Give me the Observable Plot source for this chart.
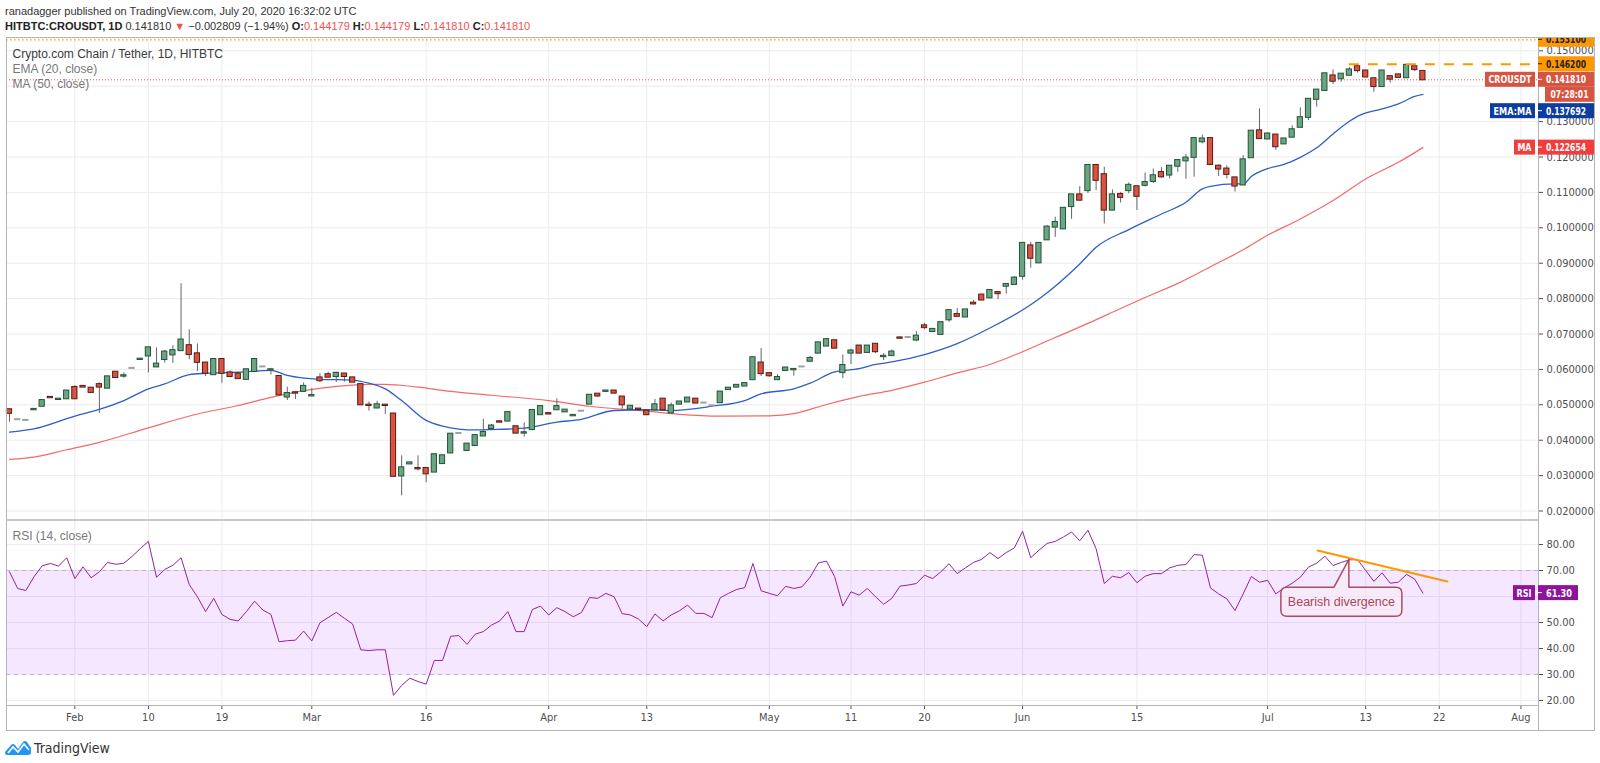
<!DOCTYPE html>
<html>
<head>
<meta charset="utf-8">
<script src="https://cdn.jsdelivr.net/npm/d3@7"></script>
<script src="https://cdn.jsdelivr.net/npm/@observablehq/plot@0.6"></script>
<style>
  html, body { margin: 0; padding: 0; background: #fff; width: 1600px; height: 763px; overflow: hidden; }
  #wrap { position: relative; width: 1600px; height: 763px; }
  #header { height: 37px; position: relative; font-family: 'Liberation Sans', Arial, sans-serif; font-size: 11px; color: #333; }
  #header .l1 { position: absolute; left: 5px; top: 5px; }
  #header .l2 { position: absolute; left: 5px; top: 20px; }
  #header b { font-weight: bold; color: #222; }
  #header .dn { color: #ef5350; }
  #main svg, #rsi svg { display: block; }
  #footer { position: absolute; left: 5px; top: 739px; height: 18px; display: flex; align-items: center; font-family: 'Liberation Sans Narrow', 'DejaVu Sans Condensed', sans-serif; font-size: 14px; color: #333; }
  #footer svg { margin-right: 3px; }
  .ov { position: absolute; pointer-events: none; box-sizing: border-box; }
</style>
</head>
<body>
<div id="wrap">
  <div id="header">
    <div class="l1">ranadagger published on TradingView.com, July 20, 2020 16:32:02 UTC</div>
    <div class="l2"><b>HITBTC:CROUSDT, 1D</b> 0.141810 <span class="dn">▼</span> −0.002809 (−1.94%) <b>O:</b><span class="dn">0.144179</span> <b>H:</b><span class="dn">0.144179</span> <b>L:</b><span class="dn">0.141810</span> <b>C:</b><span class="dn">0.141810</span></div>
  </div>
  <div id="main"></div>
  <div id="rsi"></div>
  <div id="footer"><svg width="26" height="16" viewBox="0 0 26 16"><path d="M2 15 Q0 15 0 12 L6 5 Q8 3 10 5 L13 9 L18 2 Q20 0 22 2 L26 8 L26 12 Q26 15 23 15 Z" fill="#2196f3"/><path d="M3 13 L8 7 L13 12 L19 4 L24 10" stroke="#fff" stroke-width="1.6" fill="none"/></svg>TradingView</div>
  <div class="ov" style="left:6px; top:37px; width:1589px; height:694px; border:1px solid #b4b4b4;"></div>
  <div class="ov" style="left:1538px; top:705px; width:1px; height:25px; background:#b4b4b4;"></div>
  <div class="ov" style="left:6px; top:519px; width:1532px; height:2px; background:#c8c8c8;"></div>
</div>
<script>
// ---------------- DATA ----------------
const open = [
0.0486,0.0458,0.0456,0.0486,0.0496,0.0521,0.0515,0.0517,0.0549,0.0552,
0.0547,0.0557,0.0547,0.0592,0.0581,0.0603,0.0628,0.0638,0.0607,0.0628,
0.0641,0.0653,0.0667,0.0644,0.0618,0.0585,0.0628,0.0590,0.0587,0.0572,
0.0594,0.0607,0.0598,0.0580,0.0522,0.0534,0.0538,0.0525,0.0576,0.0585,
0.0580,0.0587,0.0576,0.0557,0.0499,0.0491,0.0499,0.0474,0.0299,0.0333,
0.0320,0.0320,0.0310,0.0334,0.0364,0.0419,0.0371,0.0385,0.0412,0.0433,
0.0452,0.0454,0.0438,0.0420,0.0430,0.0472,0.0475,0.0486,0.0480,0.0469,
0.0482,0.0502,0.0530,0.0538,0.0539,0.0522,0.0488,0.0488,0.0482,0.0486,
0.0516,0.0477,0.0502,0.0508,0.0516,0.0505,0.0497,0.0506,0.0543,0.0550,
0.0553,0.0571,0.0618,0.0588,0.0571,0.0597,0.0599,0.0607,0.0623,0.0646,
0.0666,0.0681,0.0591,0.0646,0.0666,0.0648,0.0671,0.0636,0.0639,0.0689,
0.0690,0.0683,0.0723,0.0707,0.0699,0.0740,0.0755,0.0748,0.0787,0.0810,
0.0802,0.0817,0.0835,0.0840,0.0863,0.0949,0.0901,0.0966,0.1002,0.0997,
0.1060,0.1093,0.1105,0.1176,0.1150,0.1050,0.1094,0.1105,0.1116,0.1120,
0.1131,0.1156,0.1149,0.1174,0.1189,0.1199,0.1243,0.1252,0.1174,0.1166,
0.1141,0.1121,0.1198,0.1274,0.1251,0.1262,0.1237,0.1256,0.1284,0.1312,
0.1363,0.1388,0.1429,0.1421,0.1431,0.1455,0.1443,0.1421,0.1399,0.1427,
0.1432,0.1424,0.1455,0.14418];
const high = [
0.0488,0.0459,0.0457,0.0488,0.0513,0.0522,0.0517,0.0540,0.0554,0.0553,
0.0548,0.0562,0.0580,0.0593,0.0590,0.0604,0.0630,0.0662,0.0661,0.0654,
0.0667,0.0842,0.0712,0.0672,0.0619,0.0629,0.0629,0.0596,0.0588,0.0600,
0.0629,0.0608,0.0603,0.0581,0.0550,0.0536,0.0562,0.0546,0.0588,0.0592,
0.0592,0.0588,0.0577,0.0558,0.0508,0.0510,0.0500,0.0475,0.0356,0.0337,
0.0356,0.0321,0.0360,0.0357,0.0418,0.0420,0.0390,0.0414,0.0459,0.0445,
0.0454,0.0479,0.0439,0.0449,0.0485,0.0496,0.0476,0.0517,0.0486,0.0471,
0.0483,0.0528,0.0531,0.0540,0.0540,0.0523,0.0497,0.0489,0.0483,0.0515,
0.0517,0.0505,0.0509,0.0520,0.0517,0.0506,0.0498,0.0537,0.0548,0.0556,
0.0561,0.0634,0.0659,0.0589,0.0585,0.0605,0.0601,0.0608,0.0637,0.0676,
0.0686,0.0682,0.0641,0.0657,0.0667,0.0667,0.0672,0.0645,0.0655,0.0690,
0.0693,0.0707,0.0730,0.0714,0.0733,0.0767,0.0772,0.0769,0.0795,0.0811,
0.0823,0.0818,0.0841,0.0862,0.0956,0.0959,0.0957,0.1006,0.1030,0.1056,
0.1094,0.1116,0.1178,0.1177,0.1171,0.1107,0.1100,0.1127,0.1117,0.1155,
0.1166,0.1170,0.1175,0.1191,0.1208,0.1253,0.1262,0.1253,0.1178,0.1175,
0.1142,0.1204,0.1274,0.1336,0.1268,0.1263,0.1252,0.1288,0.1339,0.1364,
0.1390,0.1436,0.1446,0.1435,0.1453,0.1461,0.1445,0.1422,0.1444,0.1428,
0.1433,0.1460,0.1456,0.14418];
const low = [
0.0451,0.0457,0.0455,0.0485,0.0495,0.0519,0.0514,0.0516,0.0516,0.0549,
0.0534,0.0476,0.0546,0.0577,0.0575,0.0602,0.0627,0.0590,0.0606,0.0618,
0.0617,0.0652,0.0627,0.0594,0.0580,0.0584,0.0561,0.0579,0.0573,0.0571,
0.0593,0.0606,0.0584,0.0527,0.0512,0.0515,0.0537,0.0524,0.0563,0.0577,
0.0563,0.0564,0.0563,0.0499,0.0482,0.0489,0.0473,0.0298,0.0243,0.0332,
0.0313,0.0280,0.0309,0.0333,0.0363,0.0418,0.0370,0.0384,0.0411,0.0428,
0.0450,0.0453,0.0419,0.0409,0.0429,0.0471,0.0473,0.0485,0.0479,0.0468,
0.0481,0.0501,0.0521,0.0537,0.0532,0.0488,0.0487,0.0486,0.0471,0.0485,
0.0485,0.0476,0.0501,0.0507,0.0504,0.0504,0.0496,0.0505,0.0542,0.0549,
0.0552,0.0570,0.0580,0.0578,0.0570,0.0596,0.0581,0.0606,0.0622,0.0645,
0.0665,0.0659,0.0574,0.0614,0.0645,0.0647,0.0645,0.0625,0.0638,0.0687,
0.0689,0.0678,0.0712,0.0706,0.0698,0.0733,0.0749,0.0747,0.0782,0.0796,
0.0801,0.0797,0.0813,0.0839,0.0852,0.0886,0.0900,0.0965,0.0973,0.0995,
0.1024,0.1077,0.1097,0.1105,0.1011,0.1049,0.1070,0.1096,0.1049,0.1115,
0.1125,0.1140,0.1138,0.1157,0.1137,0.1143,0.1237,0.1178,0.1145,0.1138,
0.1101,0.1120,0.1197,0.1251,0.1250,0.1219,0.1236,0.1255,0.1283,0.1303,
0.1341,0.1387,0.1405,0.1411,0.1430,0.1437,0.1425,0.1383,0.1398,0.1409,
0.1424,0.1423,0.1441,0.14181];
const close = [
0.0476,0.0458,0.0456,0.0487,0.0512,0.0520,0.0516,0.0539,0.0517,0.0550,
0.0535,0.0550,0.0579,0.0577,0.0582,0.0603,0.0629,0.0661,0.0615,0.0649,
0.0653,0.0683,0.0642,0.0620,0.0589,0.0628,0.0589,0.0580,0.0574,0.0599,
0.0628,0.0607,0.0599,0.0528,0.0532,0.0533,0.0552,0.0526,0.0568,0.0578,
0.0589,0.0580,0.0564,0.0500,0.0498,0.0500,0.0498,0.0298,0.0322,0.0336,
0.0319,0.0305,0.0359,0.0356,0.0417,0.0419,0.0389,0.0413,0.0422,0.0440,
0.0451,0.0478,0.0420,0.0421,0.0484,0.0495,0.0474,0.0495,0.0485,0.0470,
0.0482,0.0527,0.0525,0.0539,0.0533,0.0500,0.0496,0.0487,0.0472,0.0500,
0.0486,0.0497,0.0508,0.0519,0.0505,0.0505,0.0497,0.0536,0.0547,0.0555,
0.0560,0.0633,0.0588,0.0582,0.0577,0.0604,0.0600,0.0607,0.0631,0.0675,
0.0684,0.0660,0.0611,0.0652,0.0646,0.0666,0.0650,0.0637,0.0649,0.0688,
0.0690,0.0694,0.0718,0.0713,0.0732,0.0766,0.0750,0.0768,0.0785,0.0796,
0.0823,0.0814,0.0840,0.0858,0.0956,0.0914,0.0956,0.1002,0.1015,0.1055,
0.1093,0.1078,0.1176,0.1134,0.1050,0.1093,0.1086,0.1120,0.1089,0.1128,
0.1147,0.1144,0.1174,0.1190,0.1197,0.1252,0.1251,0.1179,0.1166,0.1151,
0.1118,0.1192,0.1273,0.1252,0.1265,0.1229,0.1251,0.1277,0.1311,0.1363,
0.1389,0.1435,0.1414,0.1434,0.1446,0.1444,0.1426,0.1399,0.1443,0.1420,
0.1425,0.1459,0.1447,0.14181];

const emaBar = [0,3,8,11,14,17,19,22,24,28,32,34,38,42,44,46,48,51,53,57,59,63,67,70,74,78,81,86,90,92,96,98,101,104,106,108,112,116,120,124,126,131,133,137,141,144,146,147,150,151,152,154,156,158,160,162,164,165,168,170,172,173];
const emaVal = [0.0423,0.0432,0.0468,0.0487,0.0512,0.0545,0.0559,0.0585,0.0589,0.0592,0.0597,0.0583,0.0572,0.0570,0.0561,0.0545,0.0512,0.0456,0.0440,0.0429,0.0430,0.0434,0.0451,0.0459,0.0484,0.0486,0.0484,0.0496,0.0512,0.0531,0.0545,0.0561,0.0593,0.0602,0.0614,0.0621,0.0642,0.0673,0.0717,0.0768,0.0799,0.0898,0.0945,0.0995,0.1039,0.1072,0.1110,0.1117,0.1124,0.1124,0.1145,0.1167,0.1179,0.1199,0.1226,0.1265,0.1301,0.1315,0.1336,0.1350,0.1371,0.137692];
const maBar = [0,3,7,11,17,23,28,32,36,40,44,46,50,54,59,66,71,78,82,87,93,96,100,104,108,112,116,120,124,128,132,136,139,143,147,151,154,158,162,166,170,173];
const maVal = [0.0346,0.0352,0.0373,0.0394,0.0435,0.0474,0.0498,0.0521,0.0540,0.0552,0.0558,0.0558,0.0550,0.0538,0.0527,0.0512,0.0496,0.0482,0.0473,0.0468,0.0469,0.0475,0.0501,0.0524,0.0541,0.0564,0.0590,0.0614,0.0650,0.0690,0.0730,0.0772,0.0803,0.0843,0.0890,0.0938,0.0979,0.1025,0.1077,0.1138,0.1185,0.122654];

// RSI(14)
const rsi = [69.5,63.1,62.3,67.6,71.8,72.7,71.7,74.9,66.9,71.4,
67.2,69.5,73.1,72.4,72.8,75.4,78.4,81.2,67.4,70.4,
72.0,74.9,64.6,59.9,54.2,59.3,53.1,51.2,50.6,54.2,
58.2,54.8,53.1,42.6,43.0,43.2,46.7,42.9,49.9,51.9,
53.9,51.6,49.4,39.5,39.2,39.5,39.5,22.0,25.8,28.6,
27.3,26.3,35.4,35.4,44.7,45.0,41.6,45.5,46.5,49.0,
50.6,54.2,46.5,46.5,55.0,56.3,52.9,55.7,54.2,52.2,
53.8,59.6,59.3,61.2,59.9,53.4,52.9,51.3,48.4,53.3,
50.6,52.9,54.5,56.7,53.5,53.5,51.9,59.5,61.2,62.7,
63.4,72.7,62.2,61.2,60.3,63.9,63.1,63.7,67.4,72.9,
73.6,67.6,56.3,61.8,60.5,63.1,59.9,57.0,59.3,64.0,
64.4,65.0,68.2,66.9,69.5,72.6,68.8,71.0,73.1,74.3,
76.9,74.6,76.9,78.7,85.1,74.9,77.8,80.4,81.2,82.9,
84.8,81.4,85.5,78.4,65.0,67.8,67.2,69.2,65.3,67.8,
68.8,68.8,71.0,72.0,72.3,76.1,75.9,63.3,61.0,59.1,
54.6,61.0,67.7,65.5,66.2,61.0,63.3,65.1,67.4,71.3,
72.8,75.5,71.9,73.1,74.1,74.2,70.0,65.8,69.1,65.1,
65.5,68.5,66.7,61.30];

// Axis ticks (bar index of each labelled date) and labels
const tickBar = [8,17,26,37,51,66,78,93,103,112,124,138,154,166,175,185];
const tickLbl = ["Feb","10","19","Mar","16","Apr","13","May","11","20","Jun","15","Jul","13","22","Aug"];
const priceTicks = [0.02,0.03,0.04,0.05,0.06,0.07,0.08,0.09,0.10,0.11,0.12,0.13,0.14,0.15];
const hiddenPriceTick = 0.14;   // covered by the last-price label in the reference
const rsiTicks = [20,30,40,50,60,70,80];
const hiddenRsiTick = 60;       // covered by the RSI value label
const rsiBand = [30,70];

// Drawings
const topLineLevel = 0.1531;
const resistanceLevel = 0.1462, resistanceFrom = 164;
const trendBar = [160.1, 176.0], trendVal = [77.7, 65.8];
const callout = {bar: 164, value: 74.1, text: "Bearish divergence"};
const lastClose = 0.141810, lastEma = 0.137692, lastMa = 0.122654, lastRsi = 61.30;

// ---------------- BUILD ----------------
const FN = "'Liberation Sans Narrow', 'DejaVu Sans Condensed', 'Liberation Sans', sans-serif";
const FR = "'Liberation Sans', Arial, sans-serif";
const xDomain = [-0.367, 187.15];
const candles = open.map((o, i) => ({i, o, h: high[i], l: low[i], c: close[i]}));
const emaPts = emaBar.map((b, k) => ({b, v: emaVal[k]}));
const maPts = maBar.map((b, k) => ({b, v: maVal[k]}));
const rsiPts = rsi.map((v, b) => ({b, v}));
const trendPts = trendBar.map((b, k) => ({b, v: trendVal[k]}));

const upFill = "#6ba583", upStroke = "#225437", dnFill = "#d75442", dnStroke = "#5b1a13";
const bodyFill = d => d.c > d.o ? upFill : d.c < d.o ? dnFill : "#cfcfcf";
const bodyStroke = d => d.c > d.o ? upStroke : d.c < d.o ? dnStroke : "#a0a0a0";

function sideLabels(items) {
  return (index, scales, values, dims) => {
    const g = d3.create("svg:g").attr("font-family", FN).attr("font-size", 11).attr("font-weight", "bold");
    const xr = dims.width - dims.marginRight;
    for (const it of items) {
      const y = scales.y(it.value) + (it.shift || 0);
      const w = it.w || 56;
      const x0 = xr + (it.off || 0);
      g.append("rect").attr("x", x0).attr("y", y - 7.5).attr("width", w).attr("height", 15).attr("fill", it.bg);
      if (!it.off) g.append("line").attr("x1", x0).attr("x2", x0 + 4).attr("y1", y).attr("y2", y).attr("stroke", it.fg);
      g.append("text").attr("x", it.off ? x0 + w / 2 : x0 + 8).attr("y", y).attr("dy", "0.36em")
        .attr("text-anchor", it.off ? "middle" : "start").attr("fill", it.fg)
        .attr("textLength", it.tl).attr("lengthAdjust", "spacingAndGlyphs").text(it.text);
      if (it.name) {
        g.append("rect").attr("x", xr - 3 - it.nameW).attr("y", y - 7.5).attr("width", it.nameW).attr("height", 15).attr("fill", it.bg);
        g.append("text").attr("x", xr - 3 - it.nameW / 2).attr("y", y).attr("dy", "0.36em").attr("text-anchor", "middle")
          .attr("fill", it.fg).attr("textLength", it.nameW - 7).attr("lengthAdjust", "spacingAndGlyphs").text(it.name);
      }
    }
    return g.node();
  };
}

const mainPlot = Plot.plot({
  width: 1600, height: 483,
  marginLeft: 6, marginRight: 62, marginTop: 0, marginBottom: 0,
  style: {fontFamily: FN, fontSize: "11px", color: "#4f4f4f", background: "#fff", overflow: "hidden"},
  x: {domain: xDomain, axis: null},
  y: {domain: [0.01732, 0.15376], axis: "right", ticks: priceTicks.filter(t => t !== hiddenPriceTick), tickFormat: d3.format(".6f"), tickSize: 4, tickPadding: 4, label: null},
  marks: [
    Plot.ruleY(priceTicks, {stroke: "#ececec"}),
    Plot.ruleX(tickBar, {stroke: "#ececec"}),
    Plot.ruleY([topLineLevel], {stroke: "#ff9800", strokeDasharray: "1.5,2.5", strokeWidth: 1.3}),
    Plot.ruleY([lastClose], {stroke: "#e0574a", strokeDasharray: "1,2", strokeWidth: 1}),
    Plot.line(maPts, {x: "b", y: "v", stroke: "#f24f4f", strokeWidth: 1.2, strokeOpacity: 0.85, curve: "monotone-x"}),
    Plot.line(emaPts, {x: "b", y: "v", stroke: "#2d5fc6", strokeWidth: 1.3, curve: "monotone-x"}),
    Plot.ruleX(candles, {x: "i", y1: "l", y2: "h", stroke: "#62656e", strokeWidth: 1}),
    Plot.rect(candles, {x1: d => d.i - 0.32, x2: d => d.i + 0.32, y1: d => Math.min(d.o, d.c), y2: d => Math.max(d.o, d.c),
      fill: bodyFill, stroke: bodyStroke, strokeWidth: 1, insetTop: -0.5, insetBottom: -0.5}),
    Plot.ruleY([resistanceLevel], {x1: resistanceFrom, x2: xDomain[1], stroke: "#ff9800", strokeDasharray: "10,9", strokeWidth: 2}),
    Plot.text(["Crypto.com Chain / Tether, 1D, HITBTC"], {frameAnchor: "top-left", dx: 6, dy: 17, lineAnchor: "middle", textAnchor: "start", fill: "#3a3a3a", fontSize: 12, fontFamily: FR}),
    Plot.text(["EMA (20, close)"], {frameAnchor: "top-left", dx: 6, dy: 32, lineAnchor: "middle", textAnchor: "start", fill: "#787878", fontSize: 12, fontFamily: FR}),
    Plot.text(["MA (50, close)"], {frameAnchor: "top-left", dx: 6, dy: 47, lineAnchor: "middle", textAnchor: "start", fill: "#787878", fontSize: 12, fontFamily: FR}),
    Plot.frame({stroke: "#b4b4b4"}),
    sideLabels([
      {value: topLineLevel, text: "0.153100", bg: "#ff9800", fg: "#1e222d", tl: 40},
      {value: resistanceLevel, text: "0.146200", bg: "#ff9800", fg: "#1e222d", tl: 40},
      {value: lastClose, text: "0.141810", bg: "#d75442", fg: "#fff", tl: 40, name: "CROUSDT", nameW: 50},
      {value: lastClose, shift: 15, text: "07:28:01", bg: "#d75442", fg: "#fff", off: 7, w: 49, tl: 38},
      {value: lastEma, shift: 16.8, text: "0.137692", bg: "#0d3d9f", fg: "#fff", tl: 40, name: "EMA:MA", nameW: 45},
      {value: lastMa, text: "0.122654", bg: "#f23d3d", fg: "#fff", tl: 40, name: "MA", nameW: 21}
    ])
  ]
});
document.getElementById("main").appendChild(mainPlot);

const calloutMark = (index, scales) => {
  const X = scales.x(callout.bar), Y = scales.y(callout.value);
  const L = X - 68, R = X + 53, T = Y + 28, B = Y + 57, r = 6;
  const p = `M${L + r},${T} L${X - 15},${T} L${X},${Y} L${X},${T} L${R - r},${T} Q${R},${T} ${R},${T + r} L${R},${B - r} Q${R},${B} ${R - r},${B} L${L + r},${B} Q${L},${B} ${L},${B - r} L${L},${T + r} Q${L},${T} ${L + r},${T} Z`;
  const g = d3.create("svg:g");
  g.append("path").attr("d", p).attr("fill", "#f9eef6").attr("fill-opacity", 0.6).attr("stroke", "#ad4c60").attr("stroke-width", 1.5).attr("stroke-linejoin", "round");
  g.append("text").attr("x", (L + R) / 2).attr("y", (T + B) / 2).attr("dy", "0.36em").attr("text-anchor", "middle")
    .attr("font-family", FR).attr("font-size", 12.5).attr("fill", "#a8455a").text(callout.text);
  return g.node();
};

const rsiPlot = Plot.plot({
  width: 1600, height: 210,
  marginLeft: 6, marginRight: 62, marginTop: 0, marginBottom: 25,
  style: {fontFamily: FN, fontSize: "11px", color: "#4f4f4f", background: "#fff", overflow: "hidden"},
  x: {domain: xDomain, ticks: tickBar, tickFormat: b => tickLbl[tickBar.indexOf(b)], tickSize: 4, tickPadding: 4, label: null},
  y: {domain: [18.08, 89.23], axis: "right", ticks: rsiTicks.filter(t => t !== hiddenRsiTick), tickFormat: d3.format(".2f"), tickSize: 4, tickPadding: 4, label: null},
  marks: [
    Plot.ruleY(rsiTicks, {stroke: "#ececec"}),
    Plot.ruleX(tickBar, {stroke: "#ececec"}),
    Plot.rect([rsiBand], {x1: xDomain[0], x2: xDomain[1], y1: d => d[0], y2: d => d[1], fill: "#9915ff", fillOpacity: 0.1}),
    Plot.ruleY(rsiBand, {stroke: "#bfb0c8", strokeDasharray: "4,4"}),
    Plot.line(rsiPts, {x: "b", y: "v", stroke: "#9221a8", strokeWidth: 1}),
    Plot.line(trendPts, {x: "b", y: "v", stroke: "#ff9800", strokeWidth: 2}),
    calloutMark,
    Plot.text(["RSI (14, close)"], {frameAnchor: "top-left", dx: 6, dy: 16, lineAnchor: "middle", textAnchor: "start", fill: "#787878", fontSize: 12, fontFamily: FR}),
    Plot.frame({stroke: "#b4b4b4"}),
    sideLabels([
      {value: lastRsi, text: "61.30", bg: "#8e1599", fg: "#fff", tl: 26, name: "RSI", nameW: 22, w: 40}
    ])
  ]
});
document.getElementById("rsi").appendChild(rsiPlot);
</script>
</body>
</html>
